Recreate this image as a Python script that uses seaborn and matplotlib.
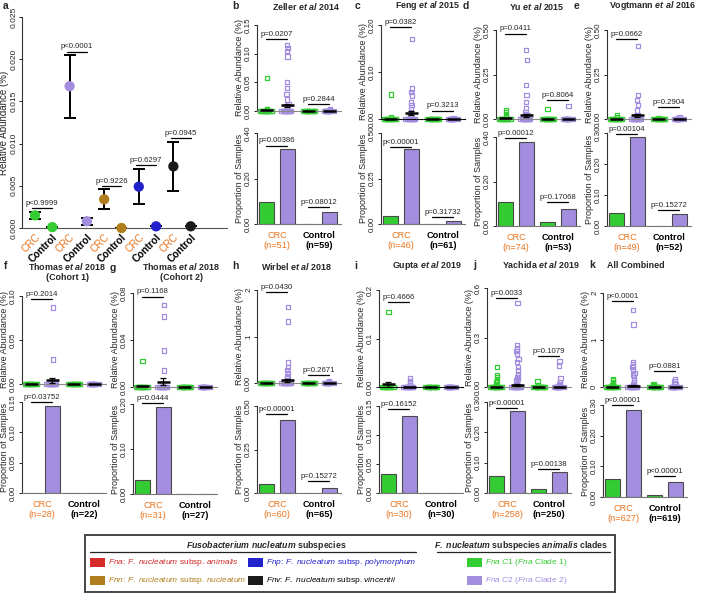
import numpy as np
import pandas as pd
import matplotlib
matplotlib.use('Agg')
import matplotlib.pyplot as plt
from matplotlib.patches import Rectangle
from matplotlib.lines import Line2D
import seaborn as sns

# ---------------- data ----------------
# panel a : relative abundance (%) mean with error range
a_groups = ['Fna C1', 'Fna C1', 'Fna C2', 'Fna C2', 'Fnn', 'Fnn', 'Fnp', 'Fnp', 'Fnv', 'Fnv']
a_labels = ['CRC', 'Control'] * 5
a_mean = [0.0015, 0.0001, 0.0168, 0.0008, 0.0034, 0.0000, 0.0049, 0.0002, 0.0073, 0.0002]
a_low = [0.0011, 0.0001, 0.0130, 0.0004, 0.0023, 0.0000, 0.0029, 0.0002, 0.0044, 0.0002]
a_high = [0.0019, 0.0001, 0.0205, 0.0012, 0.0046, 0.0000, 0.0070, 0.0002, 0.0102, 0.0002]
a_pvals = ['p<0.9999', 'p<0.0001', 'p=0.9226', 'p=0.6297', 'p=0.0945']

# order of groups in panels b-k: [Fna C1 CRC, Fna C2 CRC, Fna C1 Control, Fna C2 Control]
b_c1_crc = [0.058, 0.004, 0.003, 0.001]
b_c2_crc = [0.115, 0.110, 0.105, 0.095, 0.050, 0.040, 0.030, 0.020, 0.012, 0.006]
b_c1_ctl = []
b_c2_ctl = [0.004, 0.002]
b_mean = [0.0015, 0.010, 0.0, 0.0003]
b_sem = [0.0, 0.003, 0.0, 0.0]
b_bars = [0.098, 0.330, 0.0, 0.052]
b_p_top = ['p=0.0207', 'p=0.2844']
b_p_bot = ['p=0.00386', 'p=0.08012']
b_n = [51, 59]

c_c1_crc = [0.052, 0.003]
c_c2_crc = [0.170, 0.065, 0.058, 0.050, 0.035, 0.030, 0.022, 0.015, 0.008]
c_c1_ctl = []
c_c2_ctl = [0.002]
c_mean = [0.001, 0.012, 0.0, 0.0002]
c_sem = [0.0, 0.004, 0.0, 0.0]
c_bars = [0.043, 0.410, 0.0, 0.016]
c_p_top = ['p=0.0382', 'p=0.3213']
c_p_bot = ['p<0.00001', 'p=0.31732']
c_n = [46, 61]

d_c1_crc = [0.050, 0.040, 0.020, 0.010]
d_c2_crc = [0.386, 0.330, 0.190, 0.135, 0.097, 0.060, 0.041, 0.030, 0.020]
d_c1_ctl = [0.056]
d_c2_ctl = [0.073]
d_mean = [0.003, 0.022, 0.001, 0.0015]
d_sem = [0.0, 0.008, 0.0, 0.0]
d_bars = [0.108, 0.378, 0.019, 0.075]
d_p_top = ['p=0.0411', 'p=0.8064']
d_p_bot = ['p=0.00012', 'p=0.17068']
d_n = [74, 53]

e_c1_crc = [0.020, 0.010]
e_c2_crc = [0.410, 0.135, 0.107, 0.079, 0.047, 0.020]
e_c1_ctl = [0.004]
e_c2_ctl = [0.010]
e_mean = [0.001, 0.020, 0.0, 0.0005]
e_sem = [0.0, 0.009, 0.0, 0.0]
e_bars = [0.041, 0.286, 0.0, 0.038]
e_p_top = ['p=0.0662', 'p=0.2904']
e_p_bot = ['p=0.00104', 'p=0.15272']
e_n = [49, 52]

f_c1_crc = []
f_c2_crc = [0.087, 0.028]
f_c1_ctl = []
f_c2_ctl = []
f_mean = [0.0, 0.004, 0.0, 0.0]
f_sem = [0.0, 0.003, 0.0, 0.0]
f_bars = [0.0, 0.143, 0.0, 0.0]
f_p_top = ['p=0.2014', '']
f_p_bot = ['p=0.03752', '']
f_n = [28, 22]

g_c1_crc = [0.022]
g_c2_crc = [0.070, 0.060, 0.031, 0.014]
g_c1_ctl = []
g_c2_ctl = []
g_mean = [0.0006, 0.0045, 0.0, 0.0]
g_sem = [0.0, 0.0032, 0.0, 0.0]
g_bars = [0.032, 0.194, 0.0, 0.0]
g_p_top = ['p=0.1168', '']
g_p_bot = ['p=0.0444', '']
g_n = [31, 27]

h_c1_crc = []
h_c2_crc = [1.64, 1.32, 0.44, 0.34, 0.28, 0.21, 0.15, 0.10]
h_c1_ctl = []
h_c2_ctl = [0.03, 0.02]
h_mean = [0.0, 0.06, 0.0, 0.002]
h_sem = [0.0, 0.035, 0.0, 0.0]
h_bars = [0.050, 0.420, 0.0, 0.031]
h_p_top = ['p=0.0430', 'p=0.2671']
h_p_bot = ['p<0.00001', 'p=0.15272']
h_n = [60, 65]

i_c1_crc = [0.155]
i_c2_crc = [0.018, 0.012, 0.008, 0.004]
i_c1_ctl = []
i_c2_ctl = []
i_mean = [0.006, 0.001, 0.0, 0.0]
i_sem = [0.005, 0.0, 0.0, 0.0]
i_bars = [0.033, 0.133, 0.0, 0.0]
i_p_top = ['p=0.4666', '']
i_p_bot = ['p=0.16152', '']
i_n = [30, 30]

j_c1_crc = [0.123, 0.073, 0.059, 0.042, 0.030, 0.020, 0.010]
j_c2_crc = [0.511, 0.254, 0.234, 0.218, 0.198, 0.170, 0.150, 0.120, 0.100,
            0.080, 0.060, 0.050, 0.040, 0.030, 0.020, 0.010]
j_c1_ctl = [0.038, 0.010]
j_c2_ctl = [0.159, 0.127, 0.053, 0.032, 0.020, 0.010]
j_mean = [0.002, 0.012, 0.0005, 0.003]
j_sem = [0.0, 0.004, 0.0, 0.0]
j_bars = [0.055, 0.270, 0.012, 0.068]
j_p_top = ['p=0.0033', 'p=0.1079']
j_p_bot = ['p<0.00001', 'p=0.00138']
j_n = [258, 250]

k_c1_crc = [0.17, 0.14, 0.10, 0.07, 0.04, 0.02]
k_c2_crc = [1.64, 1.33, 0.53, 0.48, 0.42, 0.36, 0.30, 0.25, 0.20, 0.15, 0.10, 0.06, 0.03]
k_c1_ctl = [0.07, 0.04, 0.02]
k_c2_ctl = [0.17, 0.12, 0.08, 0.05, 0.02]
k_mean = [0.003, 0.030, 0.001, 0.003]
k_sem = [0.0, 0.008, 0.0, 0.0]
k_bars = [0.058, 0.284, 0.006, 0.048]
k_p_top = ['p<0.0001', 'p=0.0881']
k_p_bot = ['p<0.00001', 'p<0.00001']
k_n = [627, 619]

# ---------------- style ----------------
GREEN = '#33cc33'
PURPLE = '#a38ddf'
ORANGE = '#e8731e'
BROWN = '#b07d1c'
BLUE = '#2222cc'
DARK = '#1a1a1a'
RED = '#d42a2a'
A_PAL = {'Fna C1': GREEN, 'Fna C2': PURPLE, 'Fnn': BROWN, 'Fnp': BLUE, 'Fnv': DARK}
PAL = {'Fna C1': GREEN, 'Fna C2': PURPLE}
CLADES = ['Fna C1', 'Fna C2', 'Fna C1', 'Fna C2']
SLOTS = ['s0', 's1', 's2', 's3']
ZERO_BAND = 14

sns.set_theme(style='ticks')
plt.rcParams['font.family'] = ['Liberation Sans', 'DejaVu Sans']
plt.rcParams['mathtext.fontset'] = 'custom'
plt.rcParams['mathtext.rm'] = 'Liberation Sans'
plt.rcParams['mathtext.it'] = 'Liberation Sans:italic'
plt.rcParams['mathtext.bf'] = 'Liberation Sans:bold'
plt.rcParams['mathtext.bfit'] = 'Liberation Sans:bold:italic'
plt.rcParams['axes.linewidth'] = 0.8

W, H = 705, 595
fig = plt.figure(figsize=(W / 100, H / 100), dpi=100)
fig.patch.set_facecolor('white')


def px_axes(left, top, right, bottom):
    return fig.add_axes([left / W, 1 - bottom / H, (right - left) / W, (bottom - top) / H])


def base_style(ax, ticks, labels):
    for s in ['top', 'right']:
        ax.spines[s].set_visible(False)
    ax.spines['left'].set_color('#333333')
    ax.set_yticks(ticks)
    ax.set_yticklabels(labels, rotation=90, va='center')
    ax.tick_params(axis='y', length=2.5, width=0.7, pad=1, labelsize=5.8, colors='#222222')
    ax.set_facecolor('none')


def pline(ax, x0, x1, y, txt):
    if not txt:
        return
    ax.plot([x0, x1], [y, y], color='black', lw=0.9, clip_on=False, zorder=5)
    ax.annotate(txt, xy=((x0 + x1) / 2, y), xytext=(0, 0.8), textcoords='offset points',
                ha='center', va='bottom', fontsize=5.6, annotation_clip=False)


def strip_panel(ax, groups, means, sems, ticks, labels, ptxt, py, dashed):
    zero_rows, val_rows = [], []
    for k, vals in enumerate(groups):
        for v in vals:
            val_rows.append({'slot': SLOTS[k], 'val': v, 'clade': CLADES[k]})
        for v in [0.0] * ZERO_BAND:
            zero_rows.append({'slot': SLOTS[k], 'val': v, 'clade': CLADES[k]})
    np.random.seed(3)
    common = dict(x='slot', y='val', hue='clade', order=SLOTS, hue_order=['Fna C1', 'Fna C2'],
                  palette=PAL, marker='s', size=3.1, linewidth=0.9, ax=ax, legend=False, zorder=2)
    sns.stripplot(data=pd.DataFrame(zero_rows), jitter=0.3, **common)
    if val_rows:
        sns.stripplot(data=pd.DataFrame(val_rows), jitter=0.05, **common)
    for coll in ax.collections:
        fc = coll.get_facecolors()
        coll.set_edgecolors(fc)
        coll.set_facecolors('none')
        coll.set_clip_on(False)
    xs = np.arange(4)
    ax.hlines(means, xs - 0.32, xs + 0.32, colors='black', lw=1.8, zorder=4, clip_on=False)
    for k in range(4):
        if sems[k] > 0:
            ax.errorbar(k, means[k], yerr=sems[k], fmt='none', ecolor='black',
                        elinewidth=0.9, capsize=2.5, capthick=0.9, zorder=4)
    base_style(ax, ticks, labels)
    ax.set_ylim(0, ticks[-1])
    ax.set_xlim(-0.45, 3.55)
    ax.set_xticks([])
    ax.set_xlabel('')
    ax.set_ylabel('Relative Abundance (%)', fontsize=6.5, labelpad=1)
    ax.spines['bottom'].set_position(('data', 0))
    if dashed:
        ax.spines['bottom'].set_color('black')
        ax.spines['bottom'].set_linestyle((0, (2.0, 1.2)))
    else:
        ax.spines['bottom'].set_color('#8a8a8a')
    pline(ax, 0, 1, py[0], ptxt[0])
    pline(ax, 2, 3, py[1], ptxt[1])


def bar_panel(ax, bars, ticks, labels, ptxt, py, n):
    dfb = pd.DataFrame({'slot': SLOTS, 'val': bars, 'clade': CLADES})
    sns.barplot(data=dfb, x='slot', y='val', hue='clade', order=SLOTS,
                hue_order=['Fna C1', 'Fna C2'], palette=PAL, dodge=False, width=0.72,
                edgecolor='#4a4a4a', linewidth=0.8, errorbar=None, ax=ax, legend=False,
                saturation=1)
    base_style(ax, ticks, labels)
    ax.set_ylim(0, ticks[-1])
    ax.set_xlim(-0.45, 3.55)
    ax.spines['bottom'].set_color('#777777')
    ax.set_xticks([0.5, 2.5])
    ax.set_xticklabels([f'CRC\n(n={n[0]})', f'Control\n(n={n[1]})'])
    tl = ax.get_xticklabels()
    tl[0].set_color(ORANGE)
    tl[1].set_color('black')
    tl[1].set_fontweight('bold')
    ax.tick_params(axis='x', length=0, pad=5, labelsize=6.6)
    ax.set_xlabel('')
    ax.set_ylabel('Proportion of Samples', fontsize=6.5, labelpad=1)
    pline(ax, 0, 1, py[0], ptxt[0])
    pline(ax, 2, 3, py[1], ptxt[1])


# ---------------- panel a ----------------
axa = px_axes(22, 17, 227, 228)
dfa = pd.DataFrame({'pos': np.arange(10), 'val': a_mean, 'grp': a_groups})
a_mean_arr = np.array(a_mean)
axa.errorbar(dfa['pos'], a_mean_arr, yerr=[a_mean_arr - np.array(a_low), np.array(a_high) - a_mean_arr],
             fmt='none', ecolor='black', elinewidth=1.4, capsize=4.2, capthick=1.4, zorder=2,
             clip_on=False)
sns.scatterplot(data=dfa, x='pos', y='val', hue='grp', palette=A_PAL, s=55, edgecolor='none',
                legend=False, ax=axa, zorder=3, clip_on=False)
base_style(axa, [0, 0.005, 0.010, 0.015, 0.020, 0.025],
           ['0.000', '0.005', '0.010', '0.015', '0.020', '0.025'])
axa.tick_params(axis='y', labelsize=6)
axa.set_ylim(0, 0.025)
axa.set_xlim(-0.75, 11.1)
axa.spines['bottom'].set_color('#555555')
axa.set_xticks(np.arange(10))
axa.set_xticklabels(a_labels, rotation=45, ha='right', rotation_mode='anchor')
axa.tick_params(axis='x', length=0, pad=3, labelsize=7.2)
for lab, t in zip(a_labels, axa.get_xticklabels()):
    t.set_color(ORANGE if lab == 'CRC' else 'black')
    if lab == 'Control':
        t.set_fontweight('bold')
axa.set_xlabel('')
axa.set_ylabel('Relative Abundance (%)', fontsize=7, labelpad=1)
a_py = [0.00235, 0.0209, 0.0050, 0.0075, 0.0107]
for k, (txt, yy) in enumerate(zip(a_pvals, a_py)):
    pline(axa, 2 * k - 0.15, 2 * k + 1, yy, txt)

# ---------------- panels b-k ----------------
panels = [
    # id, left, upper(top,bottom), lower(top,bottom), groups, mean, sem, uticks, ulabels, ptop, py_top, dashed, bars, bticks, blabels, pbot, py_bot, n
    ('b', 257, (25, 111), (133, 224), [b_c1_crc, b_c2_crc, b_c1_ctl, b_c2_ctl], b_mean, b_sem,
     [0, 0.05, 0.10, 0.15], ['0.00', '0.05', '0.10', '0.15'], b_p_top, (0.125, 0.012), False,
     b_bars, [0, 0.2, 0.4], ['0.00', '0.20', '0.40'], b_p_bot, (0.345, 0.075), b_n),
    ('c', 381, (25, 119), (133, 224), [c_c1_crc, c_c2_crc, c_c1_ctl, c_c2_ctl], c_mean, c_sem,
     [0, 0.10, 0.20], ['0.00', '0.10', '0.20'], c_p_top, (0.195, 0.018), True,
     c_bars, [0, 0.25, 0.5], ['0.00', '0.25', '0.50'], c_p_bot, (0.425, 0.04), c_n),
    ('d', 496, (30, 119), (137, 226), [d_c1_crc, d_c2_crc, d_c1_ctl, d_c2_ctl], d_mean, d_sem,
     [0, 0.25, 0.5], ['0.00', '0.25', '0.50'], d_p_top, (0.48, 0.107), False,
     d_bars, [0, 0.2, 0.4], ['0.00', '0.20', '0.40'], d_p_bot, (0.395, 0.107), d_n),
    ('e', 607, (30, 119), (133, 226), [e_c1_crc, e_c2_crc, e_c1_ctl, e_c2_ctl], e_mean, e_sem,
     [0, 0.25, 0.5], ['0.00', '0.25', '0.50'], e_p_top, (0.45, 0.067), False,
     e_bars, [0, 0.1, 0.2, 0.3], ['0.00', '0.10', '0.20', '0.30'], e_p_bot, (0.298, 0.052), e_n),
    ('f', 22, (296, 384), (402, 493), [f_c1_crc, f_c2_crc, f_c1_ctl, f_c2_ctl], f_mean, f_sem,
     [0, 0.05, 0.10], ['0.00', '0.05', '0.10'], f_p_top, (0.097, 0), False,
     f_bars, [0, 0.05, 0.10, 0.15], ['0.00', '0.05', '0.10', '0.15'], f_p_bot, (0.15, 0), f_n),
    ('g', 133, (293, 387), (404, 494), [g_c1_crc, g_c2_crc, g_c1_ctl, g_c2_ctl], g_mean, g_sem,
     [0, 0.04, 0.08], ['0.00', '0.04', '0.08'], g_p_top, (0.077, 0), False,
     g_bars, [0, 0.1, 0.2], ['0.00', '0.10', '0.20'], g_p_bot, (0.203, 0), g_n),
    ('h', 257, (290, 383), (406, 493), [h_c1_crc, h_c2_crc, h_c1_ctl, h_c2_ctl], h_mean, h_sem,
     [0, 1, 2], ['0.00', '1', '2'], h_p_top, (1.96, 0.17), False,
     h_bars, [0, 0.25, 0.5], ['0.00', '0.25', '0.50'], h_p_bot, (0.455, 0.071), h_n),
    ('i', 379, (290, 387), (406, 493), [i_c1_crc, i_c2_crc, i_c1_ctl, i_c2_ctl], i_mean, i_sem,
     [0, 0.1, 0.2], ['0.00', '0.1', '0.2'], i_p_top, (0.176, 0), True,
     i_bars, [0, 0.05, 0.10, 0.15], ['0.00', '0.05', '0.10', '0.15'], i_p_bot, (0.145, 0), i_n),
    ('j', 487, (288, 387), (402, 493), [j_c1_crc, j_c2_crc, j_c1_ctl, j_c2_ctl], j_mean, j_sem,
     [0, 0.3, 0.6], ['0.00', '0.3', '0.6'], j_p_top, (0.54, 0.188), False,
     j_bars, [0, 0.1, 0.2, 0.3], ['0.00', '0.10', '0.20', '0.30'], j_p_bot, (0.28, 0.08), j_n),
    ('k', 603, (293, 387), (405, 497), [k_c1_crc, k_c2_crc, k_c1_ctl, k_c2_ctl], k_mean, k_sem,
     [0, 1, 2], ['0', '1', '2'], k_p_top, (1.83, 0.33), False,
     k_bars, [0, 0.1, 0.2, 0.3], ['0.00', '0.10', '0.20', '0.30'], k_p_bot, (0.30, 0.067), k_n),
]

PW = 84
for (pid, left, up, lo, groups, mean, sem, ut, ul, ptop, pyt, dashed,
     bars, bt, bl, pbot, pyb, n) in panels:
    axu = px_axes(left, up[0], left + PW, up[1])
    strip_panel(axu, groups, mean, sem, ut, ul, ptop, pyt, dashed)
    axl = px_axes(left, lo[0], left + PW, lo[1])
    bar_panel(axl, bars, bt, bl, pbot, pyb, n)

# ---------------- titles & letters ----------------
def ftext(x, y, s, **kw):
    fig.text(x / W, 1 - y / H, s, **kw)

titles = [
    (306, 6, r'Zeller $\mathbfit{et\ al}$ 2014'),
    (428, 6, r'Feng $\mathbfit{et\ al}$ 2015'),
    (537, 6, r'Yu $\mathbfit{et\ al}$ 2015'),
    (653, 6, r'Vogtmann $\mathbfit{et\ al}$ 2016'),
    (67, 266, r'Thomas $\mathbfit{et\ al}$ 2018'),
    (67, 277, '(Cohort 1)'),
    (181, 266, r'Thomas $\mathbfit{et\ al}$ 2018'),
    (181, 277, '(Cohort 2)'),
    (297, 266, r'Wirbel $\mathbfit{et\ al}$ 2018'),
    (427, 266, r'Gupta $\mathbfit{et\ al}$ 2019'),
    (541, 265, r'Yachida $\mathbfit{et\ al}$ 2019'),
    (636, 265, 'All Combined'),
]
for x, y, s in titles:
    ftext(x, y, s, ha='center', va='center', fontsize=6.4, fontweight='bold')

letters = [('a', 6, 6), ('b', 235, 6), ('c', 358, 6), ('d', 466, 6), ('e', 576, 6),
           ('f', 6, 266), ('g', 113, 268), ('h', 235, 266), ('i', 356, 266),
           ('j', 475, 265), ('k', 592, 265)]
for s, x, y in letters:
    ftext(x, y, s, ha='center', va='center', fontsize=7.5, fontweight='bold')

# ---------------- legend ----------------
fig.patches.append(Rectangle((85 / W, 1 - 592 / H), (615 - 85) / W, (592 - 535) / H,
                             transform=fig.transFigure, fill=False, edgecolor='#444444', lw=1.4))
ftext(266, 546, r'$\mathbfit{Fusobacterium\ nucleatum}$ subspecies', ha='center', va='center',
      fontsize=6.3, fontweight='bold')
ftext(521, 546, r'$\mathbfit{F.\ nucleatum}$ subspecies $\mathbfit{animalis}$ clades', ha='center',
      va='center', fontsize=6.3, fontweight='bold')
fig.lines.append(Line2D([90 / W, 416 / W], [1 - 552 / H] * 2, transform=fig.transFigure,
                        color='#222222', lw=0.9))
fig.lines.append(Line2D([437 / W, 610 / W], [1 - 552 / H] * 2, transform=fig.transFigure,
                        color='#222222', lw=0.9))

legend_items = [
    (90, 562, RED, r'$\mathit{Fna}$: $\mathit{F.\ nucleatum}$ subsp. $\mathit{animalis}$'),
    (90, 580, BROWN, r'$\mathit{Fnn}$: $\mathit{F.\ nucleatum}$ subsp. $\mathit{nucleatum}$'),
    (248, 562, BLUE, r'$\mathit{Fnp}$: $\mathit{F.\ nucleatum}$ subsp. $\mathit{polymorphum}$'),
    (248, 580, DARK, r'$\mathit{Fnv}$: $\mathit{F.\ nucleatum}$ subsp. $\mathit{vincentii}$'),
    (467, 562, GREEN, r'$\mathit{Fna\ C1}$ ($\mathit{Fna}$ Clade 1)'),
    (467, 580, PURPLE, r'$\mathit{Fna\ C2}$ ($\mathit{Fna}$ Clade 2)'),
]
for x, y, col, s in legend_items:
    fig.patches.append(Rectangle((x / W, 1 - (y + 4.5) / H), 15 / W, 9 / H,
                                 transform=fig.transFigure, facecolor=col, edgecolor='none'))
    txt_col = 'black' if col == DARK else col
    ftext(x + 18, y, s, ha='left', va='center', fontsize=6, color=txt_col)

fig.savefig('out.png', dpi=100, facecolor='white')
